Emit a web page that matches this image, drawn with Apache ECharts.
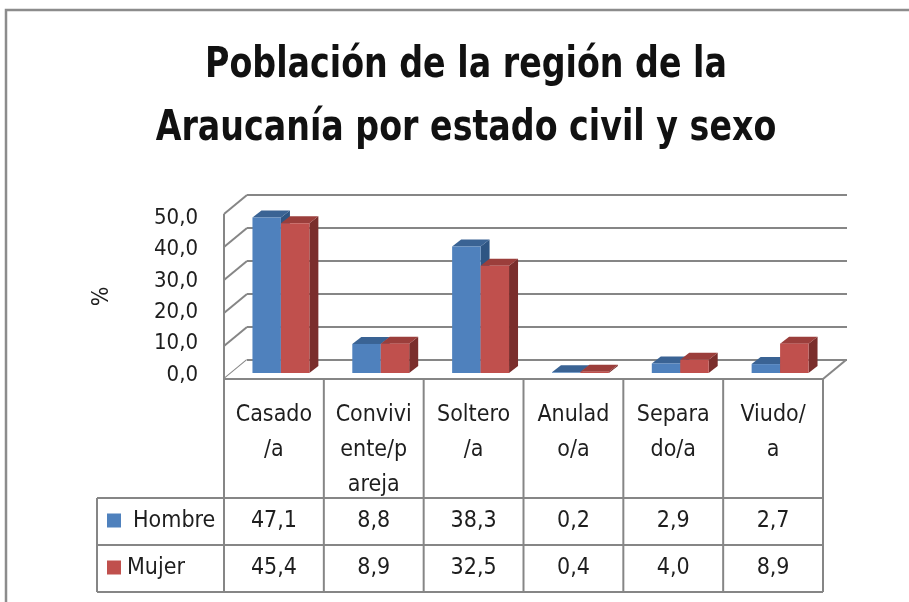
<!DOCTYPE html>
<html>
<head>
<meta charset="utf-8">
<script src="https://cdn.jsdelivr.net/npm/echarts@6.0.0/dist/echarts.min.js"></script>
<style>
html, body { margin: 0; padding: 0; background: #fff; }
#chart { width: 909px; height: 602px; }
</style>
</head>
<body>
<div id="chart"></div>
<script>
// datos
const titleLines = ['Población de la región de la', 'Araucanía por estado civil y sexo'];
const categoryLines = [
    ['Casado', '/a'],
    ['Convivi', 'ente/p', 'areja'],
    ['Soltero', '/a'],
    ['Anulad', 'o/a'],
    ['Separa', 'do/a'],
    ['Viudo/', 'a']
];
const hombre = [47.1, 8.8, 38.3, 0.2, 2.9, 2.7];
const mujer = [45.4, 8.9, 32.5, 0.4, 4.0, 8.9];
const yTicks = [0, 10, 20, 30, 40, 50];
const seriesNames = ['Hombre', 'Mujer'];

const FONT = "'DejaVu Sans Condensed', 'Liberation Sans Narrow', 'DejaVu Sans', sans-serif";
const GRID_LEFT = 224, GRID_TOP = 214, GRID_W = 599, GRID_H = 165;
const DX = 23, DY = 19; // profundidad del piso
const LINE = { stroke: '#868686', lineWidth: 2 };
const TXT = '#1e1e1e';
const colors = {
    Hombre: { front: '#4F81BD', top: '#3A6394', side: '#2E5583' },
    Mujer: { front: '#C0504D', top: '#9B3E3B', side: '#7A2E2C' }
};

function fmt(v) {
    return v.toFixed(1).replace('.', ',');
}

function renderFrame(params, api) {
    const cs = params.coordSys;
    const v = api.value(1);
    const y = api.coord([0, v])[1];
    const children = [
        { type: 'line', shape: { x1: cs.x, y1: y, x2: cs.x + DX, y2: y - DY }, style: LINE }
    ];
    if (v === 0) {
        children.push({ type: 'polygon', shape: { points: [[cs.x, y], [cs.x + DX, y - DY], [cs.x + cs.width + DX, y - DY], [cs.x + cs.width, y]] }, style: { fill: '#fff' } });
        children.push({ type: 'line', shape: { x1: cs.x + DX, y1: y - DY, x2: cs.x + cs.width + DX, y2: y - DY }, style: LINE });
        children.push({ type: 'line', shape: { x1: cs.x, y1: y, x2: cs.x + cs.width, y2: y }, style: LINE });
        children.push({ type: 'line', shape: { x1: cs.x + cs.width, y1: y, x2: cs.x + cs.width + DX, y2: y - DY }, style: LINE });
        children.push({ type: 'line', shape: { x1: cs.x, y1: y, x2: cs.x, y2: cs.y }, style: LINE });
        children.push({ type: 'line', shape: { x1: cs.x, y1: y, x2: cs.x, y2: y - DY }, style: LINE });
    }
    return { type: 'group', children: children };
}

function barRenderer(name, idx) {
    const c = colors[name];
    return function (params, api) {
        const i = api.value(0), v = api.value(1);
        const base = api.coord([i, 0]);
        const top = api.coord([i, v]);
        const bw = api.size([1, 0])[0] * 0.285;
        const sx = 7, sy = 6, dx = 9, dy = 7;
        const x0 = base[0] + sx + (idx === 0 ? -bw : 0);
        const x1 = x0 + bw;
        const yb = base[1] - sy, yt = top[1] - sy;
        return {
            type: 'group',
            children: [
                { type: 'polygon', shape: { points: [[x1, yt], [x1 + dx, yt - dy], [x1 + dx, yb - dy], [x1, yb]] }, style: { fill: c.side } },
                { type: 'polygon', shape: { points: [[x0, yt], [x0 + dx, yt - dy], [x1 + dx, yt - dy], [x1, yt]] }, style: { fill: c.top } },
                { type: 'rect', shape: { x: x0, y: yt, width: bw, height: yb - yt }, style: { fill: c.front } }
            ]
        };
    };
}

// titulo y tabla de datos
function buildGraphic() {
    const els = [];
    els.push({ type: 'rect', shape: { x: 6, y: 10, width: 960, height: 660 }, style: { fill: 'none', stroke: '#8c8c8c', lineWidth: 2.5 } });
    titleLines.forEach(function (t, k) {
        els.push({
            type: 'text', x: 466, y: 66 + k * 63, scaleY: 1.15,
            style: { text: t, font: 'bold 37px ' + FONT, fill: '#111', align: 'center', verticalAlign: 'middle' }
        });
    });
    const colW = GRID_W / categoryLines.length;
    const yHead = GRID_TOP + GRID_H, yR1 = 498, yR2 = 545, yEnd = 592, xLeg = 97;
    const right = GRID_LEFT + GRID_W;
    for (let k = 0; k <= categoryLines.length; k++) {
        const x = GRID_LEFT + k * colW;
        els.push({ type: 'line', shape: { x1: x, y1: yHead, x2: x, y2: yEnd }, style: LINE });
    }
    els.push({ type: 'line', shape: { x1: xLeg, y1: yR1, x2: xLeg, y2: yEnd }, style: LINE });
    [yR1, yR2, yEnd].forEach(function (y) {
        els.push({ type: 'line', shape: { x1: xLeg, y1: y, x2: right, y2: y }, style: LINE });
    });
    categoryLines.forEach(function (lines, k) {
        els.push({
            type: 'text',
            x: GRID_LEFT + (k + 0.5) * colW, y: 398,
            style: { text: lines.join('\n'), font: '23px ' + FONT, fill: TXT, align: 'center', verticalAlign: 'top', lineHeight: 35 }
        });
    });
    [hombre, mujer].forEach(function (arr, r) {
        const cy = r === 0 ? (yR1 + yR2) / 2 : (yR2 + yEnd) / 2;
        arr.forEach(function (v, k) {
            els.push({
                type: 'text',
                x: GRID_LEFT + (k + 0.5) * colW, y: cy,
                style: { text: fmt(v), font: '23px ' + FONT, fill: TXT, align: 'center', verticalAlign: 'middle' }
            });
        });
        const name = seriesNames[r];
        els.push({ type: 'rect', shape: { x: 107, y: cy - 8, width: 14, height: 14 }, style: { fill: colors[name].front } });
        els.push({
            type: 'text', x: r === 0 ? 133 : 127, y: cy,
            style: { text: name, font: '23px ' + FONT, fill: TXT, align: 'left', verticalAlign: 'middle' }
        });
    });
    return els;
}

const chart = echarts.init(document.getElementById('chart'));
chart.setOption({
    backgroundColor: '#fff',
    animation: false,
    grid: [
        { left: GRID_LEFT, top: GRID_TOP, width: GRID_W, height: GRID_H },
        { left: GRID_LEFT + DX, top: GRID_TOP - DY, width: GRID_W + 1, height: GRID_H },
        { left: GRID_LEFT, top: 218, width: GRID_W, height: 157 }
    ],
    xAxis: [0, 1, 2].map(function (g) {
        return { type: 'category', gridIndex: g, data: categoryLines.map(l => l.join('')), axisLine: { show: false }, axisTick: { show: false }, axisLabel: { show: false } };
    }),
    yAxis: [
        {
            type: 'value', gridIndex: 0, min: 0, max: 50, interval: 10,
            axisLine: { show: false }, axisTick: { show: false }, splitLine: { show: false }, axisLabel: { show: false }
        },
        {
            type: 'value', gridIndex: 1, min: 0, max: 50, interval: 10,
            axisLine: { show: false }, axisTick: { show: false }, axisLabel: { show: false },
            splitLine: { show: true, lineStyle: { color: '#868686', width: 2 } }
        },
        {
            type: 'value', gridIndex: 2, min: 0, max: 50, interval: 10,
            name: '%', nameLocation: 'middle', nameRotate: 90, nameGap: 110,
            nameTextStyle: { fontFamily: FONT, fontSize: 23, color: TXT },
            axisLine: { show: false }, axisTick: { show: false }, splitLine: { show: false },
            axisLabel: { margin: 26, formatter: fmt, fontFamily: FONT, fontSize: 22, color: TXT }
        }
    ],
    series: [
        {
            type: 'custom', name: 'marco', xAxisIndex: 0, yAxisIndex: 0,
            renderItem: renderFrame, data: yTicks.map(v => [0, v]), silent: true
        },
        {
            type: 'custom', name: 'Hombre', xAxisIndex: 0, yAxisIndex: 0,
            renderItem: barRenderer('Hombre', 0), data: hombre.map((v, i) => [i, v])
        },
        {
            type: 'custom', name: 'Mujer', xAxisIndex: 0, yAxisIndex: 0,
            renderItem: barRenderer('Mujer', 1), data: mujer.map((v, i) => [i, v])
        }
    ],
    graphic: buildGraphic()
});
</script>
</body>
</html>
